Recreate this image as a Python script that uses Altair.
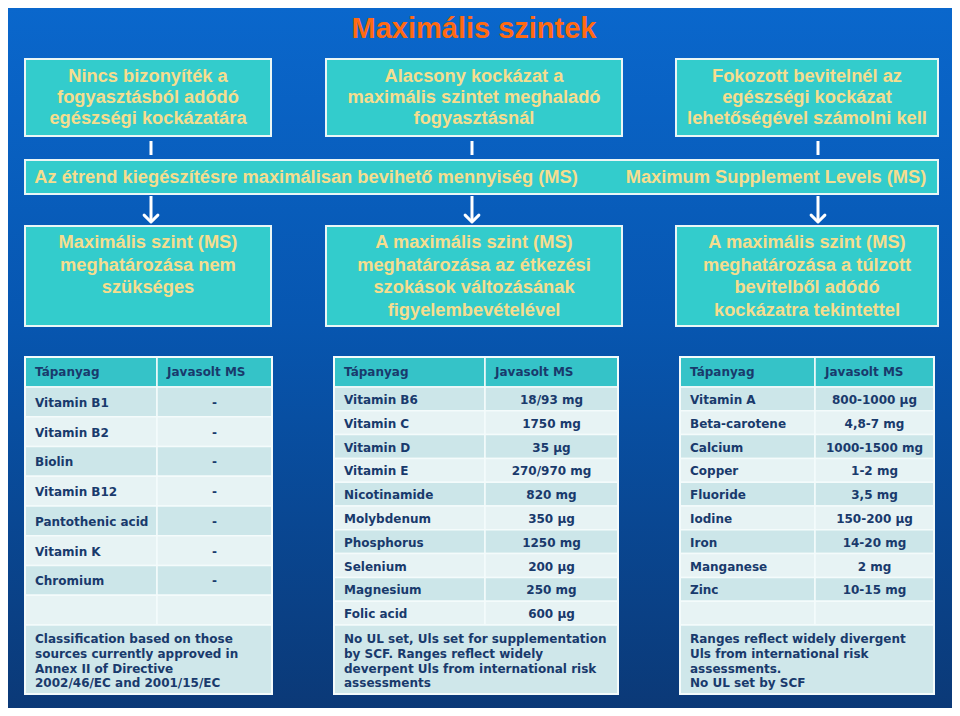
import altair as alt
import pandas as pd

# ---------------- data (text content) ----------------
TITLE = "Maximális szintek"
TOP_BOXES = [
    ["Nincs bizonyíték a", "fogyasztásból adódó", "egészségi kockázatára"],
    ["Alacsony kockázat a", "maximális szintet meghaladó", "fogyasztásnál"],
    ["Fokozott bevitelnél az", "egészségi kockázat", "lehetőségével számolni kell"],
]
BANNER = ["Az étrend kiegészítésre maximálisan bevihető mennyiség (MS)",
          "Maximum Supplement Levels (MS)"]
MID_BOXES = [
    ["Maximális szint (MS)", "meghatározása nem", "szükséges"],
    ["A maximális szint (MS)", "meghatározása az étkezési", "szokások változásának",
     "figyelembevételével"],
    ["A maximális szint (MS)", "meghatározása a túlzott", "bevitelből adódó",
     "kockázatra tekintettel"],
]
HEADER = ["Tápanyag", "Javasolt MS"]

T1_NUTRIENTS = ["Vitamin B1", "Vitamin B2", "Biolin", "Vitamin B12",
                "Pantothenic acid", "Vitamin K", "Chromium", ""]
T1_VALUES = ["-", "-", "-", "-", "-", "-", "-", ""]
T1_NOTE = ["Classification based on those", "sources currently approved in",
           "Annex II of Directive", "2002/46/EC and 2001/15/EC"]

T2_NUTRIENTS = ["Vitamin B6", "Vitamin C", "Vitamin D", "Vitamin E", "Nicotinamide",
                "Molybdenum", "Phosphorus", "Selenium", "Magnesium", "Folic acid"]
T2_VALUES = ["18/93 mg", "1750 mg", "35 µg", "270/970 mg", "820 mg",
             "350 µg", "1250 mg", "200 µg", "250 mg", "600 µg"]
T2_NOTE = ["No UL set,  Uls set for supplementation", "by SCF.  Ranges reflect widely",
           "deverpent Uls from international risk", "assessments"]

T3_NUTRIENTS = ["Vitamin A", "Beta-carotene", "Calcium", "Copper", "Fluoride",
                "Iodine", "Iron", "Manganese", "Zinc", ""]
T3_VALUES = ["800-1000 µg", "4,8-7 mg", "1000-1500 mg", "1-2 mg", "3,5 mg",
             "150-200 µg", "14-20 mg", "2 mg", "10-15 mg", ""]
T3_NOTE = ["Ranges reflect widely divergent", "Uls from international risk",
           "assessments.", "No UL set by SCF"]

# ---------------- layout ----------------
W, H = 944, 700
OX, OY = 8, 8
xs = alt.Scale(domain=[OX, OX + W], nice=False, zero=False)
ys = alt.Scale(domain=[OY, OY + H], nice=False, zero=False, reverse=True)

BOX_X = [(25, 271), (326, 622), (676, 938)]
TOP_Y = (59, 136)
BANNER_Y = (160, 194)
MID_Y = (226, 326)
LINK_X = [151, 472, 818]
TAB_X = [(25, 157, 272), (334, 485, 618), (680, 815, 934)]
HEAD_Y = (357, 387)
BODY_Y = (387, 625)
NOTE_Y = (625, 694)

BOX_FILL = "#33cccc"
BOX_TEXT = "#f6dd8e"
TAB_TEXT = "#193a6c"
HEAD_FILL = "#35c3c8"
ROW_DARK = "#cce6e9"
ROW_LIGHT = "#e7f3f4"
NOTE_FILL = "#cfe7ea"

def ex(f):
    return alt.X(f"{f}:Q", scale=xs, axis=None)

def ey(f):
    return alt.Y(f"{f}:Q", scale=ys, axis=None)

# ---------------- background ----------------
bg = alt.Chart(pd.DataFrame({"a": [0]})).mark_rect(
    color=alt.Gradient(gradient="linear", x1=0, x2=0, y1=0, y2=1,
                       stops=[alt.GradientStop(offset=0, color="#0a67cc"),
                              alt.GradientStop(offset=0.45, color="#0756b0"),
                              alt.GradientStop(offset=1, color="#0b3977")])
).encode(x=alt.value(0), x2=alt.value(W), y=alt.value(0), y2=alt.value(H))

# ---------------- boxes ----------------
boxes = []
for (x1, x2) in BOX_X:
    boxes.append(dict(x=x1, x2=x2, y=TOP_Y[0], y2=TOP_Y[1]))
    boxes.append(dict(x=x1, x2=x2, y=MID_Y[0], y2=MID_Y[1]))
boxes.append(dict(x=BOX_X[0][0], x2=BOX_X[2][1], y=BANNER_Y[0], y2=BANNER_Y[1]))
box_layer = alt.Chart(pd.DataFrame(boxes)).mark_rect(
    fill=BOX_FILL, stroke="#eaf6f6", strokeWidth=2
).encode(x=ex("x"), x2=alt.X2("x2"), y=ey("y"), y2=alt.Y2("y2"))

links = pd.DataFrame([dict(x=lx, y=141, y2=155) for lx in LINK_X])
link_layer = alt.Chart(links).mark_rule(color="white", strokeWidth=3).encode(
    x=ex("x"), y=ey("y"), y2=alt.Y2("y2"))

arrows = pd.DataFrame([dict(x=lx, y=196, y2=222) for lx in LINK_X])
arrow_shaft = alt.Chart(arrows).mark_rule(color="white", strokeWidth=3).encode(
    x=ex("x"), y=ey("y"), y2=alt.Y2("y2"))
arrow_head = alt.Chart(arrows).mark_point(
    shape="M-1,-1L0,0L1,-1", filled=False, stroke="white", strokeWidth=3,
    size=190, opacity=1, strokeCap="round", strokeJoin="round"
).encode(x=ex("x"), y=ey("y2"))

# ---------------- tables ----------------
tables = [(T1_NUTRIENTS, T1_VALUES, T1_NOTE),
          (T2_NUTRIENTS, T2_VALUES, T2_NOTE),
          (T3_NUTRIENTS, T3_VALUES, T3_NOTE)]
cells, left_txt, center_txt, head_txt = [], [], [], []
for (xa, xm, xb), (nut, val, note) in zip(TAB_X, tables):
    cells.append(dict(x=xa, x2=xm, y=HEAD_Y[0], y2=HEAD_Y[1], fill=HEAD_FILL))
    cells.append(dict(x=xm, x2=xb, y=HEAD_Y[0], y2=HEAD_Y[1], fill=HEAD_FILL))
    head_txt.append(dict(x=xa + 10, y=(HEAD_Y[0] + HEAD_Y[1]) / 2, t=HEADER[0]))
    head_txt.append(dict(x=xm + 10, y=(HEAD_Y[0] + HEAD_Y[1]) / 2, t=HEADER[1]))
    n = len(nut)
    rh = (BODY_Y[1] - BODY_Y[0]) / n
    for i, (a, b) in enumerate(zip(nut, val)):
        y1 = BODY_Y[0] + i * rh
        f = ROW_DARK if i % 2 == 0 else ROW_LIGHT
        cells.append(dict(x=xa, x2=xm, y=y1, y2=y1 + rh, fill=f))
        cells.append(dict(x=xm, x2=xb, y=y1, y2=y1 + rh, fill=f))
        left_txt.append(dict(x=xa + 10, y=y1 + rh / 2 + 1, t=a))
        center_txt.append(dict(x=(xm + xb) / 2, y=y1 + rh / 2 + 1, t=b))
    cells.append(dict(x=xa, x2=xb, y=NOTE_Y[0], y2=NOTE_Y[1], fill=NOTE_FILL))
    for j, line in enumerate(note):
        left_txt.append(dict(x=xa + 10, y=NOTE_Y[0] + 14 + j * 14.8, t=line))

cell_layer = alt.Chart(pd.DataFrame(cells)).mark_rect(
    stroke="#f4fbfb", strokeWidth=1.5
).encode(x=ex("x"), x2=alt.X2("x2"), y=ey("y"), y2=alt.Y2("y2"),
         color=alt.Color("fill:N", scale=None))
outline = alt.Chart(pd.DataFrame([dict(x=a, x2=b, y=HEAD_Y[0], y2=NOTE_Y[1])
                                  for (a, m, b) in TAB_X])).mark_rect(
    fill=None, stroke="#f4fbfb", strokeWidth=2
).encode(x=ex("x"), x2=alt.X2("x2"), y=ey("y"), y2=alt.Y2("y2"))

TFONT = "Verdana, DejaVu Sans"
def tab_text(rows, align):
    return alt.Chart(pd.DataFrame(rows)).mark_text(
        font=TFONT, fontSize=12, fontWeight="bold", color=TAB_TEXT,
        align=align, baseline="middle"
    ).encode(x=ex("x"), y=ey("y"), text="t:N")

# ---------------- box texts ----------------
box_lines = []
for (x1, x2), lines in zip(BOX_X, TOP_BOXES):
    c = (TOP_Y[0] + TOP_Y[1]) / 2
    for j, line in enumerate(lines):
        box_lines.append(dict(x=(x1 + x2) / 2, y=c + (j - (len(lines) - 1) / 2) * 21, t=line))
for (x1, x2), lines in zip(BOX_X, MID_BOXES):
    for j, line in enumerate(lines):
        box_lines.append(dict(x=(x1 + x2) / 2, y=243 + j * 22.6, t=line))
box_lines.append(dict(x=306, y=178, t=BANNER[0]))
box_lines.append(dict(x=776, y=178, t=BANNER[1]))
box_text = alt.Chart(pd.DataFrame(box_lines)).mark_text(
    font="Liberation Sans, Arial", fontSize=18.3, fontWeight="bold", color=BOX_TEXT,
    align="center", baseline="middle"
).encode(x=ex("x"), y=ey("y"), text="t:N")

title = alt.Chart(pd.DataFrame([dict(x=474, y=29, t=TITLE)])).mark_text(
    font="Liberation Sans, Arial", fontSize=29, fontWeight="bold", color="#ff6a12",
    align="center", baseline="middle"
).encode(x=ex("x"), y=ey("y"), text="t:N")

chart = alt.layer(
    bg, box_layer, link_layer, arrow_shaft, arrow_head, cell_layer, outline,
    tab_text(head_txt, "left"), tab_text(left_txt, "left"), tab_text(center_txt, "center"),
    box_text, title
).properties(
    width=W, height=H, padding=0, autosize=alt.AutoSizeParams(type="none"),
    background="#0a5cbf"
).configure_view(stroke=None)

chart.save("out.html", embed_options={"renderer": "svg", "actions": False})
